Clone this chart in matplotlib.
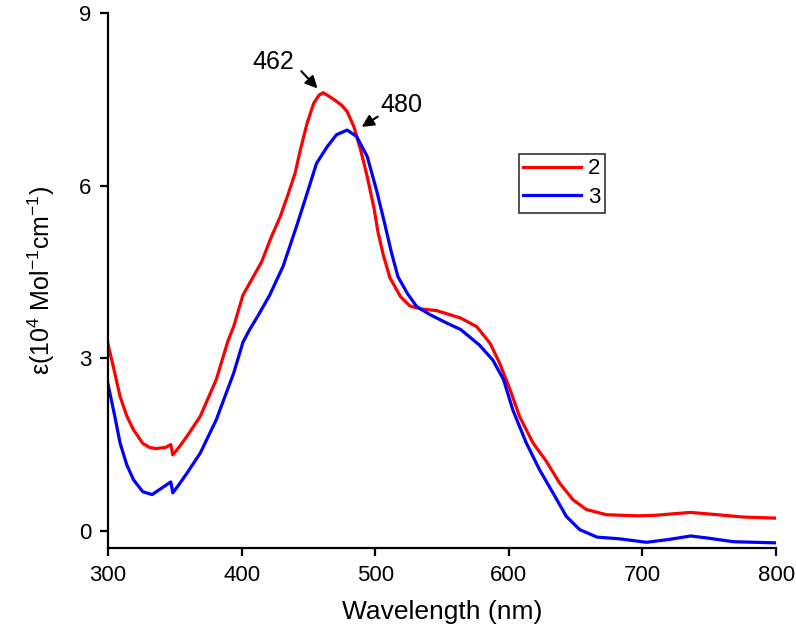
import matplotlib
matplotlib.use("Agg")
import matplotlib.pyplot as plt

plt.rcParams["font.family"] = ["Liberation Sans", "DejaVu Sans"]
plt.rcParams["mathtext.default"] = "regular"

# Absorption spectra (wavelength in nm, epsilon in 1e4 M^-1 cm^-1)
wl_2 = [300, 305, 309, 314, 319, 326, 331, 336, 343, 347, 348.5, 353, 359, 369,
        381, 390, 394, 401, 408, 415, 422, 429, 435, 440, 444, 449, 454, 458,
        461, 466, 471, 475, 479, 484, 489, 494, 499, 502, 506, 511, 519, 526,
        534, 546, 564, 576, 586, 593, 601, 608, 618, 628, 638, 648, 658, 673,
        696, 710, 720, 736, 756, 775, 800]
eps_2 = [3.25, 2.75, 2.34, 2.00, 1.76, 1.52, 1.45, 1.43, 1.45, 1.50, 1.32, 1.45,
         1.64, 1.99, 2.63, 3.32, 3.55, 4.10, 4.39, 4.68, 5.10, 5.47, 5.87, 6.22,
         6.63, 7.09, 7.44, 7.58, 7.62, 7.55, 7.47, 7.40, 7.29, 7.03, 6.63, 6.16,
         5.62, 5.20, 4.80, 4.40, 4.07, 3.91, 3.86, 3.83, 3.70, 3.55, 3.26, 2.92,
         2.45, 1.99, 1.53, 1.21, 0.83, 0.54, 0.37, 0.28, 0.26, 0.27, 0.29, 0.32,
         0.28, 0.24, 0.22]

wl_3 = [300, 305, 309, 314, 319, 326, 333, 340, 347, 348.5, 353, 359, 369, 381,
        394, 401, 406, 412, 421, 431, 441, 449, 456, 464, 471, 479, 486, 494,
        501, 507, 512, 517, 524, 531, 541, 553, 564, 578, 588, 596, 603, 613,
        623, 633, 643, 653, 666, 683, 703, 720, 736, 750, 768, 800]
eps_3 = [2.55, 2.00, 1.53, 1.15, 0.89, 0.68, 0.63, 0.74, 0.85, 0.66, 0.80, 1.00,
         1.35, 1.93, 2.74, 3.28, 3.50, 3.73, 4.10, 4.60, 5.29, 5.87, 6.39, 6.68,
         6.89, 6.97, 6.86, 6.51, 5.92, 5.35, 4.85, 4.42, 4.13, 3.90, 3.76, 3.62,
         3.50, 3.23, 2.97, 2.63, 2.10, 1.53, 1.06, 0.66, 0.25, 0.02, -0.11, -0.14,
         -0.20, -0.15, -0.09, -0.13, -0.19, -0.21]

x_ticks = [300, 400, 500, 600, 700, 800]
y_ticks = [0, 3, 6, 9]

fig = plt.figure(figsize=(7.96, 6.38), dpi=100)
ax = fig.add_axes([0.1357, 0.141, 0.8393, 0.838])

ax.plot(wl_2, eps_2, color="#ff0000", lw=2.3, label="2")
ax.plot(wl_3, eps_3, color="#0000ff", lw=2.3, label="3")

ax.set_xlim(300, 800)
ax.set_ylim(-0.3, 9)
ax.set_xticks(x_ticks)
ax.set_yticks(y_ticks)

for s in ["top", "right"]:
    ax.spines[s].set_visible(False)
for s in ["left", "bottom"]:
    ax.spines[s].set_linewidth(1.6)
ax.tick_params(direction="out", length=6, width=1.6, labelsize=16, pad=6)

ax.set_xlabel("Wavelength (nm)", fontsize=19, labelpad=10)
ax.set_ylabel(r"ε(10$^4$ Mol$^{-1}$cm$^{-1}$)", fontsize=18, labelpad=16)

# peak labels with arrows
ax.annotate("", xy=(458.2, 7.66), xytext=(443.2, 8.03),
            arrowprops=dict(arrowstyle="-|>", color="black", lw=1.5, mutation_scale=18))
ax.text(423.7, 8.16, "462", fontsize=18, ha="center", va="center")
ax.annotate("", xy=(488.1, 7.0), xytext=(503.6, 7.23),
            arrowprops=dict(arrowstyle="-|>", color="black", lw=1.5, mutation_scale=18))
ax.text(519.8, 7.41, "480", fontsize=18, ha="center", va="center")

leg = ax.legend(loc="upper left", bbox_to_anchor=(0.615, 0.737), borderaxespad=0,
                fontsize=16, handlelength=2.6, handletextpad=0.3, labelspacing=0.35,
                borderpad=0.2, fancybox=False, frameon=True)
leg.get_frame().set_edgecolor("black")
leg.get_frame().set_linewidth(1.2)

fig.savefig("out.png", dpi=100)
